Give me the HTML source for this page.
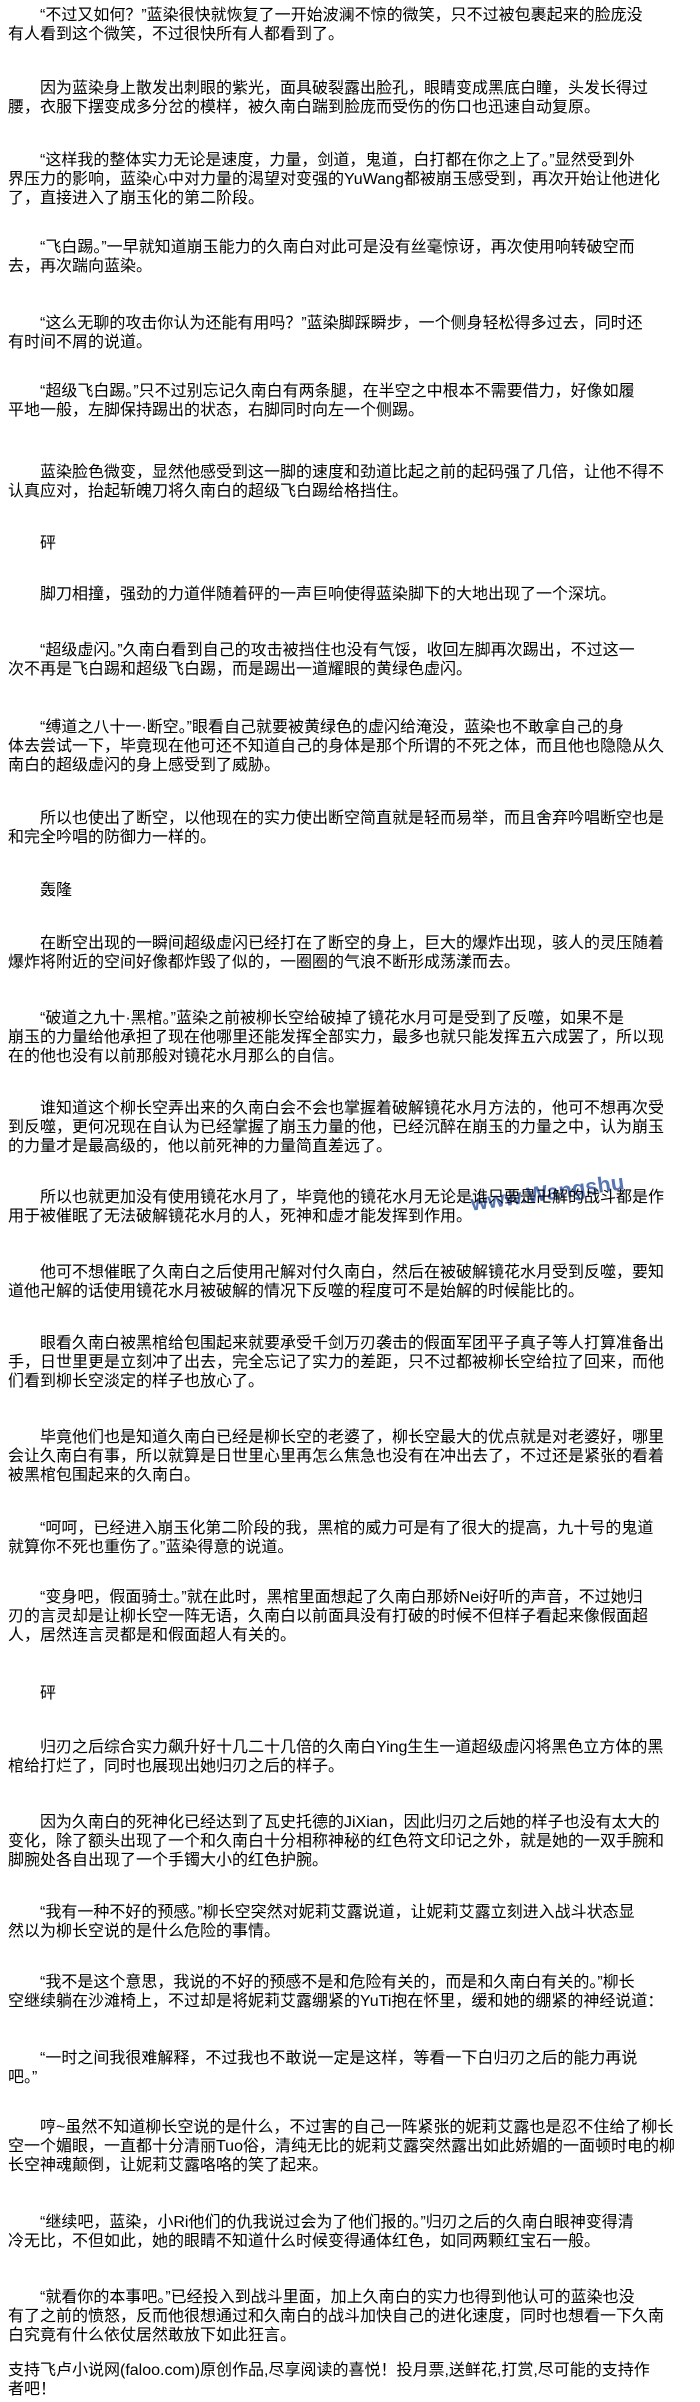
<!DOCTYPE html>
<html><head><meta charset="utf-8">
<style>
html,body{margin:0;padding:0;background:#fff;}
body{width:700px;height:2402px;position:relative;overflow:hidden;
font-family:"Liberation Sans","Noto Sans CJK SC",sans-serif;font-size:16px;color:#000;}
p{position:absolute;left:8px;margin:0;line-height:19px;white-space:nowrap;}
p .i{display:inline-block;width:32px;}
.wm{position:absolute;left:470px;top:1180px;color:#3a5ea8;font-size:22px;font-weight:bold;transform:rotate(-8deg);opacity:.85;white-space:nowrap;}
</style></head><body>
<div class="wm">www.Wangshu</div>
<p style="top:6px"><span class="i"></span>“不过又如何？”蓝染很快就恢复了一开始波澜不惊的微笑，只不过被包裹起来的脸庞没<br>有人看到这个微笑，不过很快所有人都看到了。</p>
<p style="top:79px"><span class="i"></span>因为蓝染身上散发出刺眼的紫光，面具破裂露出脸孔，眼睛变成黑底白瞳，头发长得过<br>腰，衣服下摆变成多分岔的模样，被久南白踹到脸庞而受伤的伤口也迅速自动复原。</p>
<p style="top:151px"><span class="i"></span>“这样我的整体实力无论是速度，力量，剑道，鬼道，白打都在你之上了。”显然受到外<br>界压力的影响，蓝染心中对力量的渴望对变强的YuWang都被崩玉感受到，再次开始让他进化<br>了，直接进入了崩玉化的第二阶段。</p>
<p style="top:238px"><span class="i"></span>“飞白踢。”一早就知道崩玉能力的久南白对此可是没有丝毫惊讶，再次使用响转破空而<br>去，再次踹向蓝染。</p>
<p style="top:314px"><span class="i"></span>“这么无聊的攻击你认为还能有用吗？”蓝染脚踩瞬步，一个侧身轻松得多过去，同时还<br>有时间不屑的说道。</p>
<p style="top:382px"><span class="i"></span>“超级飞白踢。”只不过别忘记久南白有两条腿，在半空之中根本不需要借力，好像如履<br>平地一般，左脚保持踢出的状态，右脚同时向左一个侧踢。</p>
<p style="top:463px"><span class="i"></span>蓝染脸色微变，显然他感受到这一脚的速度和劲道比起之前的起码强了几倍，让他不得不<br>认真应对，抬起斩魄刀将久南白的超级飞白踢给格挡住。</p>
<p style="top:534px"><span class="i"></span>砰</p>
<p style="top:585px"><span class="i"></span>脚刀相撞，强劲的力道伴随着砰的一声巨响使得蓝染脚下的大地出现了一个深坑。</p>
<p style="top:641px"><span class="i"></span>“超级虚闪。”久南白看到自己的攻击被挡住也没有气馁，收回左脚再次踢出，不过这一<br>次不再是飞白踢和超级飞白踢，而是踢出一道耀眼的黄绿色虚闪。</p>
<p style="top:718px"><span class="i"></span>“缚道之八十一·断空。”眼看自己就要被黄绿色的虚闪给淹没，蓝染也不敢拿自己的身<br>体去尝试一下，毕竟现在他可还不知道自己的身体是那个所谓的不死之体，而且他也隐隐从久<br>南白的超级虚闪的身上感受到了威胁。</p>
<p style="top:809px"><span class="i"></span>所以也使出了断空，以他现在的实力使出断空简直就是轻而易举，而且舍弃吟唱断空也是<br>和完全吟唱的防御力一样的。</p>
<p style="top:881px"><span class="i"></span>轰隆</p>
<p style="top:934px"><span class="i"></span>在断空出现的一瞬间超级虚闪已经打在了断空的身上，巨大的爆炸出现，骇人的灵压随着<br>爆炸将附近的空间好像都炸毁了似的，一圈圈的气浪不断形成荡漾而去。</p>
<p style="top:1009px"><span class="i"></span>“破道之九十·黑棺。”蓝染之前被柳长空给破掉了镜花水月可是受到了反噬，如果不是<br>崩玉的力量给他承担了现在他哪里还能发挥全部实力，最多也就只能发挥五六成罢了，所以现<br>在的他也没有以前那般对镜花水月那么的自信。</p>
<p style="top:1099px"><span class="i"></span>谁知道这个柳长空弄出来的久南白会不会也掌握着破解镜花水月方法的，他可不想再次受<br>到反噬，更何况现在自认为已经掌握了崩玉力量的他，已经沉醉在崩玉的力量之中，认为崩玉<br>的力量才是最高级的，他以前死神的力量简直差远了。</p>
<p style="top:1188px"><span class="i"></span>所以也就更加没有使用镜花水月了，毕竟他的镜花水月无论是谁只要是卍解的战斗都是作<br>用于被催眠了无法破解镜花水月的人，死神和虚才能发挥到作用。</p>
<p style="top:1263px"><span class="i"></span>他可不想催眠了久南白之后使用卍解对付久南白，然后在被破解镜花水月受到反噬，要知<br>道他卍解的话使用镜花水月被破解的情况下反噬的程度可不是始解的时候能比的。</p>
<p style="top:1334px"><span class="i"></span>眼看久南白被黑棺给包围起来就要承受千剑万刃袭击的假面军团平子真子等人打算准备出<br>手，日世里更是立刻冲了出去，完全忘记了实力的差距，只不过都被柳长空给拉了回来，而他<br>们看到柳长空淡定的样子也放心了。</p>
<p style="top:1428px"><span class="i"></span>毕竟他们也是知道久南白已经是柳长空的老婆了，柳长空最大的优点就是对老婆好，哪里<br>会让久南白有事，所以就算是日世里心里再怎么焦急也没有在冲出去了，不过还是紧张的看着<br>被黑棺包围起来的久南白。</p>
<p style="top:1519px"><span class="i"></span>“呵呵，已经进入崩玉化第二阶段的我，黑棺的威力可是有了很大的提高，九十号的鬼道<br>就算你不死也重伤了。”蓝染得意的说道。</p>
<p style="top:1588px"><span class="i"></span>“变身吧，假面骑士。”就在此时，黑棺里面想起了久南白那娇Nei好听的声音，不过她归<br>刃的言灵却是让柳长空一阵无语，久南白以前面具没有打破的时候不但样子看起来像假面超<br>人，居然连言灵都是和假面超人有关的。</p>
<p style="top:1684px"><span class="i"></span>砰</p>
<p style="top:1738px"><span class="i"></span>归刃之后综合实力飙升好十几二十几倍的久南白Ying生生一道超级虚闪将黑色立方体的黑<br>棺给打烂了，同时也展现出她归刃之后的样子。</p>
<p style="top:1813px"><span class="i"></span>因为久南白的死神化已经达到了瓦史托德的JiXian，因此归刃之后她的样子也没有太大的<br>变化，除了额头出现了一个和久南白十分相称神秘的红色符文印记之外，就是她的一双手腕和<br>脚腕处各自出现了一个手镯大小的红色护腕。</p>
<p style="top:1903px"><span class="i"></span>“我有一种不好的预感。”柳长空突然对妮莉艾露说道，让妮莉艾露立刻进入战斗状态显<br>然以为柳长空说的是什么危险的事情。</p>
<p style="top:1973px"><span class="i"></span>“我不是这个意思，我说的不好的预感不是和危险有关的，而是和久南白有关的。”柳长<br>空继续躺在沙滩椅上，不过却是将妮莉艾露绷紧的YuTi抱在怀里，缓和她的绷紧的神经说道：</p>
<p style="top:2049px"><span class="i"></span>“一时之间我很难解释，不过我也不敢说一定是这样，等看一下白归刃之后的能力再说<br>吧。”</p>
<p style="top:2118px"><span class="i"></span>哼~虽然不知道柳长空说的是什么，不过害的自己一阵紧张的妮莉艾露也是忍不住给了柳长<br>空一个媚眼，一直都十分清丽Tuo俗，清纯无比的妮莉艾露突然露出如此娇媚的一面顿时电的柳<br>长空神魂颠倒，让妮莉艾露咯咯的笑了起来。</p>
<p style="top:2213px"><span class="i"></span>“继续吧，蓝染，小Ri他们的仇我说过会为了他们报的。”归刃之后的久南白眼神变得清<br>冷无比，不但如此，她的眼睛不知道什么时候变得通体红色，如同两颗红宝石一般。</p>
<p style="top:2288px"><span class="i"></span>“就看你的本事吧。”已经投入到战斗里面，加上久南白的实力也得到他认可的蓝染也没<br>有了之前的愤怒，反而他很想通过和久南白的战斗加快自己的进化速度，同时也想看一下久南<br>白究竟有什么依仗居然敢放下如此狂言。</p>
<p style="top:2361px">支持飞卢小说网(faloo.com)原创作品,尽享阅读的喜悦！投月票,送鲜花,打赏,尽可能的支持作<br>者吧！</p>
</body></html>
